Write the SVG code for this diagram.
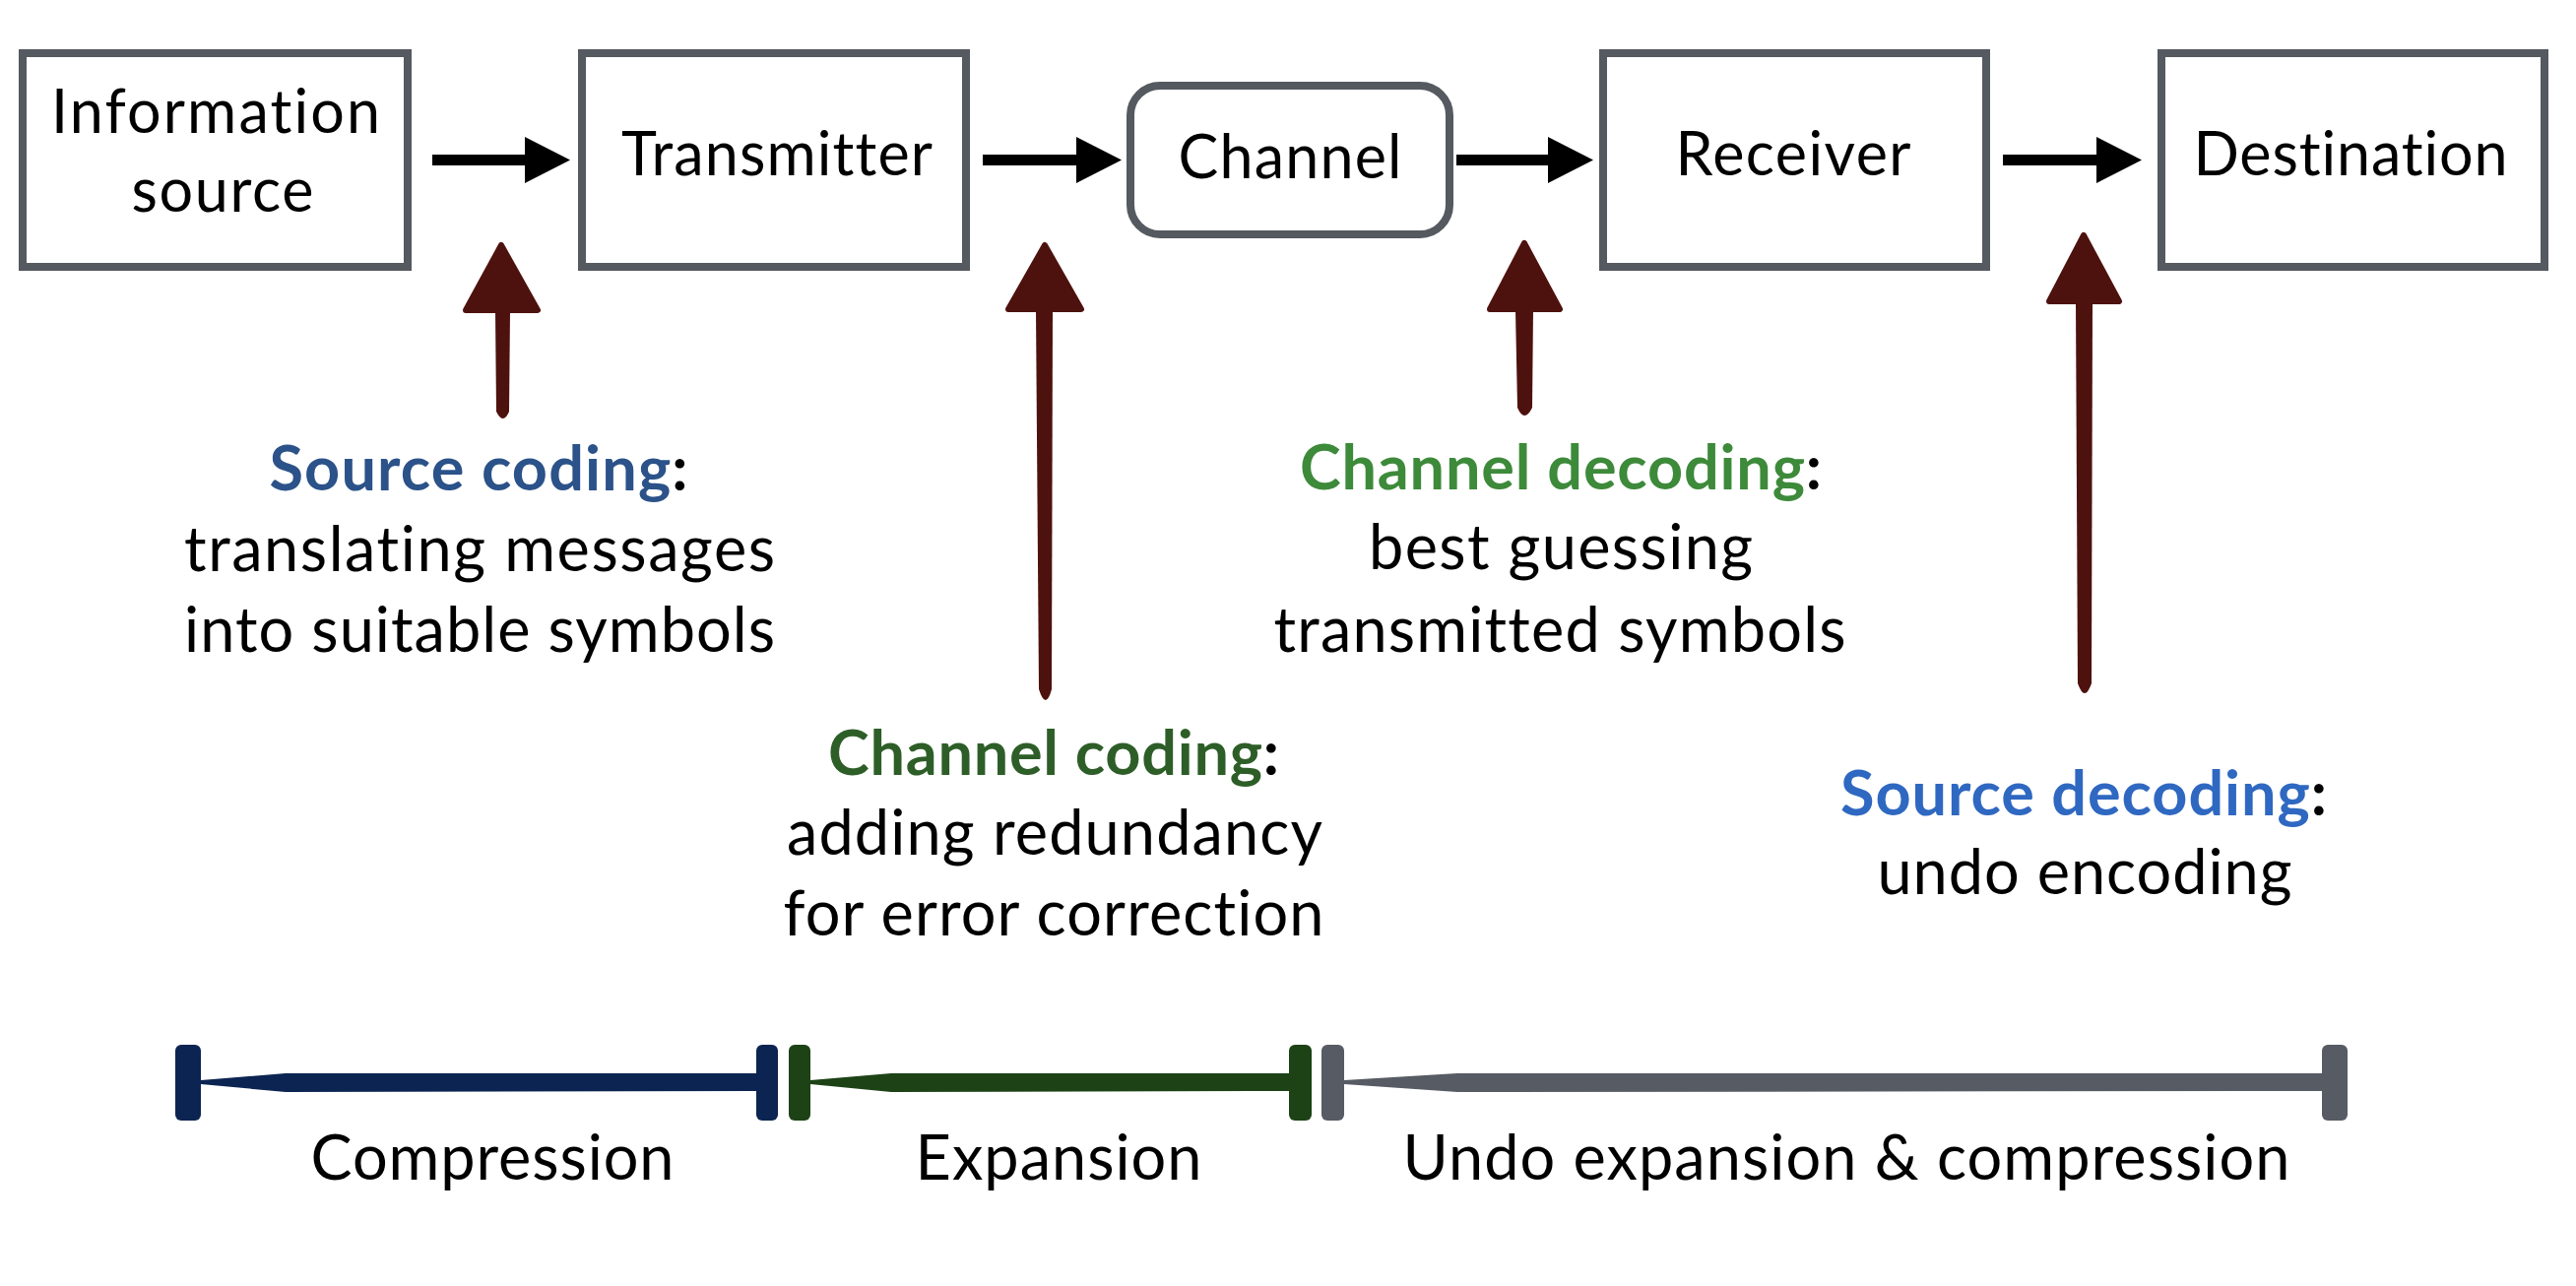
<svg xmlns="http://www.w3.org/2000/svg" width="2616" height="1306" viewBox="0 0 2616 1306">
<defs>
<style>
.box{fill:#fff;stroke:#555960;stroke-width:8}
.lbl{font-family:Lato,"Open Sans","Liberation Sans",sans-serif;font-size:61px;fill:#000;text-anchor:middle;font-variant-ligatures:none}
.txt{font-family:Lato,"Open Sans","Liberation Sans",sans-serif;font-size:63px;fill:#000;text-anchor:middle;font-variant-ligatures:none}
.hd{font-weight:bold}
.arr{fill:#000}
.red{fill:#4e120e;stroke:#4e120e;stroke-linejoin:round;stroke-width:6}
.redS{fill:#4e120e}
</style>
</defs>
<rect width="2616" height="1306" fill="#fff"/>

<g id="info">
<rect class="box" x="23" y="54" width="391" height="217"/>
<text class="lbl" x="219" y="135" textLength="334">Information</text>
<text class="lbl" x="226" y="215" textLength="185">source</text>
</g>
<g id="transmitter">
<rect class="box" x="591" y="54" width="390" height="217"/>
<text class="lbl" x="789" y="178" textLength="316">Transmitter</text>
</g>
<g id="channel">
<rect class="box" x="1148" y="87" width="324" height="151" rx="30"/>
<text class="lbl" x="1310" y="181" textLength="227">Channel</text>
</g>
<g id="receiver">
<rect class="box" x="1628" y="54" width="389" height="217"/>
<text class="lbl" x="1821" y="178" textLength="239">Receiver</text>
</g>
<g id="destination">
<rect class="box" x="2195" y="54" width="389" height="217"/>
<text class="lbl" x="2387" y="178" textLength="319">Destination</text>
</g>

<g id="connectors">
<path class="arr" d="M439,157 H533 V139 L579,162.5 L533,186 V168 H439 Z"/>
<path class="arr" d="M998,157 H1093 V139 L1139,162.5 L1093,186 V168 H998 Z"/>
<path class="arr" d="M1479,157 H1572 V139 L1618,162.5 L1572,186 V168 H1479 Z"/>
<path class="arr" d="M2034,157 H2129 V139 L2175,162.5 L2129,186 V168 H2034 Z"/>
</g>

<g id="annotation-arrows">
<g id="arrow-source-coding">
<path class="red" d="M509,249 L546,315 L473,315 Z"/>
<path class="redS" d="M503,316 L518,316 L517,418 Q511,432 504,418 Z"/>
</g>
<g id="arrow-channel-coding">
<path class="red" d="M1061,249 L1098,314 L1024,314 Z"/>
<path class="redS" d="M1052,315 L1069,315 L1068,700 Q1062,722 1055,700 Z"/>
</g>
<g id="arrow-channel-decoding">
<path class="red" d="M1548,247 L1584,314 L1513,314 Z"/>
<path class="redS" d="M1539,315 L1557,315 L1556,414 Q1548,430 1541,414 Z"/>
</g>
<g id="arrow-source-decoding">
<path class="red" d="M2116,239 L2152,306 L2081,306 Z"/>
<path class="redS" d="M2108,307 L2125,307 L2124,694 Q2117,714 2110,694 Z"/>
</g>
</g>

<g id="label-source-coding">
<text class="txt hd" x="486" y="498" textLength="425"><tspan fill="#2b5289">Source coding</tspan>:</text>
<text class="txt" x="487" y="580" textLength="600">translating messages</text>
<text class="txt" x="487" y="662" textLength="600">into suitable symbols</text>
</g>
<g id="label-channel-coding">
<text class="txt hd" x="1070" y="787" textLength="458"><tspan fill="#2e5e28">Channel coding</tspan>:</text>
<text class="txt" x="1071" y="868" textLength="544">adding redundancy</text>
<text class="txt" x="1070" y="950" textLength="549">for error correction</text>
</g>
<g id="label-channel-decoding">
<text class="txt hd" x="1585" y="497" textLength="530"><tspan fill="#3d8a3a">Channel decoding</tspan>:</text>
<text class="txt" x="1585" y="578" textLength="390">best guessing</text>
<text class="txt" x="1584" y="662" textLength="581">transmitted symbols</text>
</g>
<g id="label-source-decoding">
<text class="txt hd" x="2116" y="828" textLength="494"><tspan fill="#2f68c1">Source decoding</tspan>:</text>
<text class="txt" x="2117" y="908" textLength="421">undo encoding</text>
</g>

<g id="bar-compression" fill="#0c2451">
<rect x="178" y="1061" width="26" height="77" rx="6"/>
<path d="M204,1097 L290,1090 L768,1090 L768,1108 L290,1109 L204,1101 Z"/>
<rect x="768" y="1061" width="22" height="77" rx="6"/>
<text class="txt" x="500" y="1198" textLength="369">Compression</text>
</g>
<g id="bar-expansion" fill="#1d4216">
<rect x="801" y="1061" width="22" height="77" rx="6"/>
<path d="M823,1097 L905,1090 L1309,1090 L1309,1108 L905,1109 L823,1101 Z"/>
<rect x="1309" y="1061" width="23" height="77" rx="6"/>
<text class="txt" x="1075" y="1198" textLength="291">Expansion</text>
</g>
<g id="bar-undo" fill="#575b63">
<rect x="1342" y="1061" width="23" height="77" rx="6"/>
<path d="M1365,1097 L1480,1090 L2358,1090 L2358,1108 L1480,1109 L1365,1101 Z"/>
<rect x="2358" y="1061" width="26" height="77" rx="6"/>
<text class="txt" x="1875" y="1198" textLength="901">Undo expansion &amp; compression</text>
</g>
</svg>
